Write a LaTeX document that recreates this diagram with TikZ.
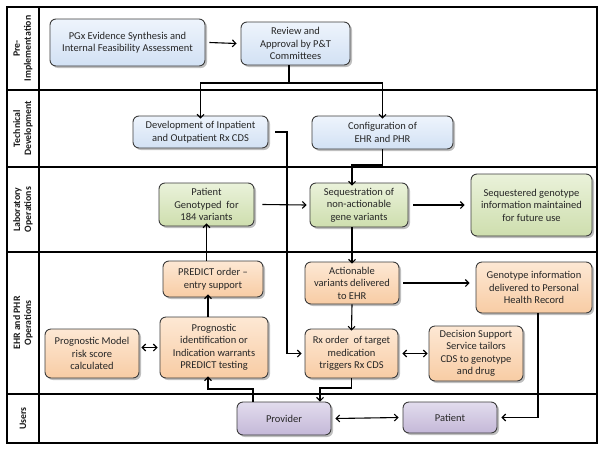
\documentclass[tikz,border=0pt]{standalone}
\usepackage{fontspec}
\setmainfont{Carlito}
\usetikzlibrary{arrows.meta,shadows,calc}
\definecolor{blueB}{RGB}{210,225,244}
\definecolor{blueT}{RGB}{238,244,252}
\definecolor{greenB}{RGB}{206,222,174}
\definecolor{greenT}{RGB}{234,242,218}
\definecolor{orangeB}{RGB}{248,204,164}
\definecolor{orangeT}{RGB}{253,232,212}
\definecolor{purpleB}{RGB}{196,184,216}
\definecolor{purpleT}{RGB}{226,220,237}
\definecolor{edgeC}{RGB}{60,60,60}
\begin{document}
\begin{tikzpicture}[x=1pt,y=-1pt,
  box/.style={draw=edgeC, line width=0.9pt, rounded corners=6pt, align=center,
    inner sep=1pt, font=\fontsize{10.5}{12.5}\selectfont, text=black!85,
    drop shadow={shadow xshift=2pt, shadow yshift=-2pt, opacity=0.5}},
  bluebox/.style={box, top color=blueT, bottom color=blueB},
  greenbox/.style={box, top color=greenT, bottom color=greenB},
  orangebox/.style={box, top color=orangeT, bottom color=orangeB},
  purplebox/.style={box, top color=purpleT, bottom color=purpleB},
  lanelab/.style={rotate=90, align=center, font=\fontsize{9.8}{11}\selectfont\bfseries, text=black!90},
  arr/.style={line width=1.1pt, -{Straight Barb[length=3.5pt,width=7pt]}},
  darr/.style={line width=1.1pt, {Straight Barb[length=3.5pt,width=7pt]}-{Straight Barb[length=3.5pt,width=7pt]}},
  lane/.style={line width=1.1pt, black}
]
\useasboundingbox (0,0) rectangle (604,450);
% lanes
\draw[lane] (7,7) rectangle (597,443);
\draw[lane] (39,7) -- (39,443);
\draw[lane] (7,90) -- (597,90);
\draw[lane] (7,167) -- (597,167);
\draw[lane] (7,252) -- (597,252);
\draw[lane] (7,394) -- (597,394);
\node[lanelab] (l1) at (23,48.5) {Pre-\\Implementation};
\node[lanelab] (l2) at (23,128.5) {Technical\\Development};
\node[lanelab] (l3) at (23,209.5) {Laboratory\\Operations};
\node[lanelab] (l4) at (23,323) {EHR and PHR\\Operations};
\node[lanelab] (l5) at (23,418.5) {Users};
% boxes
\node[bluebox, minimum width=155pt, minimum height=47pt] (pgx) at (127.5,42.5) {PGx Evidence Synthesis and\\Internal Feasibility Assessment};
\node[bluebox, minimum width=109pt, minimum height=43pt] (review) at (295.5,43.5) {Review and\\Approval by P\&T\\Committees};
\node[bluebox, minimum width=135pt, minimum height=32pt] (dev) at (200.5,132) {Development of Inpatient\\and Outpatient Rx CDS};
\node[bluebox, minimum width=141pt, minimum height=33pt] (config) at (382.5,132.5) {Configuration of\\EHR and PHR};
\node[greenbox, minimum width=95pt, minimum height=43pt] (geno) at (206.5,204.5) {Patient\\Genotyped\ \ for\\184 variants};
\node[greenbox, minimum width=98pt, minimum height=44pt] (seq) at (359,205) {Sequestration of\\non-actionable\\gene variants};
\node[greenbox, minimum width=121pt, minimum height=62pt] (seqd) at (531.5,205) {Sequestered genotype\\information maintained\\for future use};
\node[orangebox, minimum width=100pt, minimum height=36pt] (order) at (213,279) {PREDICT order –\\entry support};
\node[orangebox, minimum width=94pt, minimum height=49pt] (model) at (92,353.5) {Prognostic Model\\risk score\\calculated};
\node[orangebox, minimum width=108pt, minimum height=61pt] (progid) at (214,347.5) {Prognostic\\identification or\\Indication warrants\\PREDICT testing};
\node[orangebox, minimum width=94pt, minimum height=42pt] (action) at (352,283) {Actionable\\variants delivered\\to EHR};
\node[orangebox, minimum width=116pt, minimum height=51pt] (genoinfo) at (534,287.5) {Genotype information\\delivered to Personal\\Health Record};
\node[orangebox, minimum width=93pt, minimum height=49pt] (rx) at (351.5,353.5) {Rx order\ \ of target\\medication\\triggers Rx CDS};
\node[orangebox, minimum width=94pt, minimum height=55pt] (dss) at (476,353.5) {Decision Support\\Service tailors\\CDS to genotype\\and drug};
\node[purplebox, minimum width=94pt, minimum height=33pt] (provider) at (284,418.5) {Provider};
\node[purplebox, minimum width=94pt, minimum height=31pt] (patient) at (450,417.5) {Patient};
% connectors
\coordinate (j) at (289,83);
\coordinate (k) at (352,165);
\coordinate (m) at (287,0);
\coordinate (p) at (253,0);
\coordinate (q) at (208,389);
\coordinate (r) at (320,388);
\draw[arr] ([xshift=4pt]pgx.east) -- ([xshift=-4pt]review.west);
\draw[line width=1.1pt] (j |- review.south) -- (j);
\draw[arr] (j) -| ([yshift=-3pt]dev.north);
\draw[arr] (j) -| ([yshift=-3pt]config.north);
\draw[arr] (config.south) |- (k) -- ([yshift=-3pt]k |- seq.north);
\draw[arr] ([xshift=8pt]geno.east) -- ([xshift=-3pt]seq.west);
\draw[arr] ([xshift=5pt]seq.east) -- ([xshift=-6pt]seqd.west);
\draw[arr] (seq.south -| k) -- ([yshift=-2pt]action.north -| k);
\draw[arr] ([xshift=4pt]action.east) -- ([xshift=-6pt]genoinfo.west |- action.east);
\draw[arr] (action.south) -- ([yshift=-2pt]rx.north);
\draw[darr] ([xshift=4pt]rx.east) -- ([xshift=-1pt]rx.east -| dss.west);
\draw[arr] ([xshift=7pt]dev.east) -| (m |- rx) -- ([xshift=-3pt]rx.west);
\draw[arr] (order.north -| geno) -- ([yshift=3pt]geno.south);
\draw[arr] (progid.north -| q) -- ([yshift=3pt]order.south -| q);
\draw[darr] ([xshift=2pt]model.east |- progid) -- ([xshift=-2pt]progid.west);
\draw[arr] (p |- provider.north) |- (q) -- ([yshift=2pt]q |- progid.south);
\draw[arr] (rx.south) |- (r) -- (r |- provider.north);
\draw[darr] ([xshift=4pt]provider.east) -- ([xshift=-4pt]patient.west);
\draw[arr] ([xshift=4pt]genoinfo.south) |- ([xshift=4pt]patient.east);
\end{tikzpicture}
\end{document}
